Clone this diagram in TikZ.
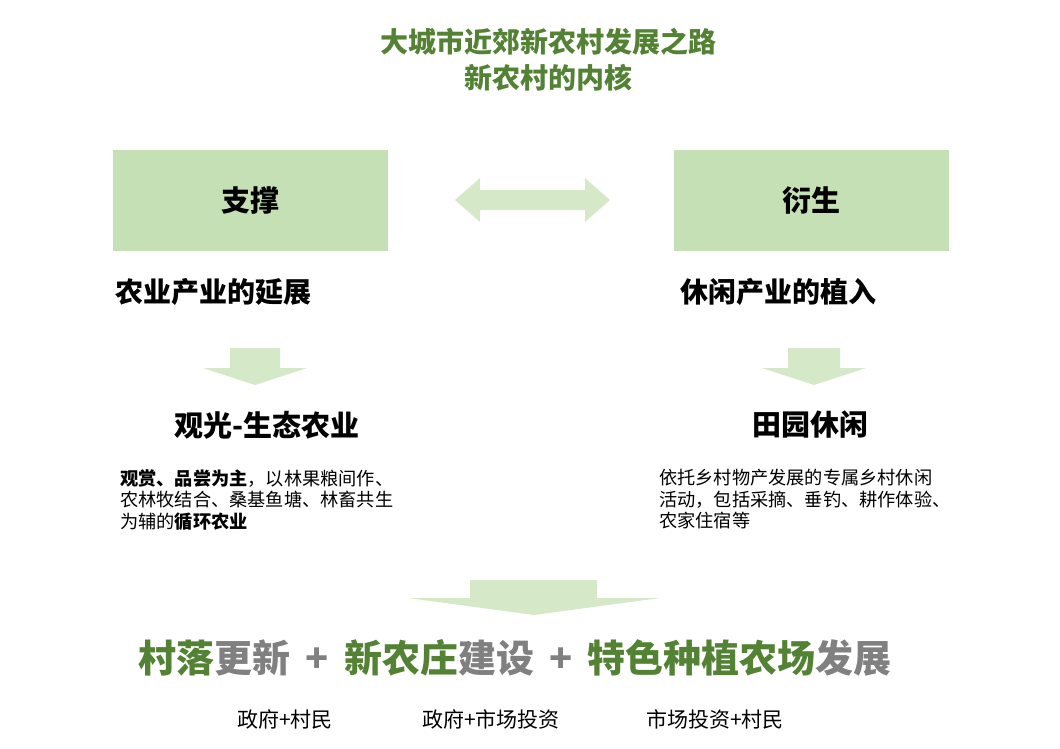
\documentclass[tikz,border=0pt]{standalone}
\usepackage{fontspec}
\setmainfont{Noto Sans CJK SC}
\usetikzlibrary{positioning}
\definecolor{leafgreen}{HTML}{548235}
\definecolor{boxgreen}{HTML}{C5E0B4}
\definecolor{arrowgreen}{HTML}{D5E8C8}
\definecolor{plusgray}{HTML}{808080}
\begin{document}
\begin{tikzpicture}[x=1pt,y=-1pt,
    % Define styles
    title/.style={font=\fontsize{28}{36}\selectfont\bfseries, text=leafgreen, align=center},
    head/.style={draw=none, fill=boxgreen, minimum width=275pt, minimum height=101pt, font=\fontsize{29}{32}\selectfont\bfseries},
    topic/.style={font=\fontsize{28}{32}\selectfont\bfseries, anchor=west},
    sub/.style={font=\fontsize{29}{32}\selectfont\bfseries},
    para/.style={font=\fontsize{18.2}{21.5}\selectfont, align=left, anchor=north west, inner sep=0pt},
    who/.style={font=\fontsize{21}{24}\selectfont},
    big/.style={font=\fontsize{38}{44}\selectfont\bfseries, text=plusgray},
    arrow/.style={fill=arrowgreen, draw=none}
]

% Canvas
\useasboundingbox (0,0) rectangle (1060,749);

% Title
\node[title] (title) at (548,60) {大城市近郊新农村发展之路\\新农村的内核};

% Heading boxes
\node[head] (support) at (250.5,200.5) {支撑};
\node[head] (derive) at (811.5,200.5) {衍生};

% Double arrow between boxes
\fill[arrow] (455,200) -- (480,178) -- (480,190) -- (585,190) -- (585,178) -- (610,200)
    -- (585,222) -- (585,210) -- (480,210) -- (480,222) -- cycle;

% Topics
\node[topic] (agri) at (112,292) {农业产业的延展};
\node[topic] (leisure) at (677,292) {休闲产业的植入};

% Down arrows
\fill[arrow] (230,348) -- (280,348) -- (280,368) -- (307,368) -- (255,385) -- (203,368) -- (230,368) -- cycle;
\fill[arrow] (788,348) -- (840,348) -- (840,368) -- (866,368) -- (814,385) -- (762,368) -- (788,368) -- cycle;

% Sub topics
\node[sub] (eco) at (267,425) {观光-生态农业};
\node[sub] (field) at (810,425) {田园休闲};

% Descriptions
\node[para] (ecotext) at (120,469) {\textbf{观赏、品尝为主}，以林果粮间作、\\农林牧结合、桑基鱼塘、林畜共生\\为辅的\textbf{循环农业}};
\node[para] (fieldtext) at (659,469) {依托乡村物产发展的专属乡村休闲\\活动，包括采摘、垂钓、耕作体验、\\农家住宿等};

% Bottom arrow
\fill[arrow] (470,580) -- (597,580) -- (597,598) -- (660,598) -- (534,615) -- (408,598) -- (470,598) -- cycle;

% Result line
\node[big] (result) at (515,658) {\textcolor{leafgreen}{村落}更新 \,+\, \textcolor{leafgreen}{新农庄}建设 \,+\, \textcolor{leafgreen}{特色种植农场}发展};

% Actors
\node[who] (actorA) at (285,719) {政府+村民};
\node[who] (actorB) at (491,719) {政府+市场投资};
\node[who] (actorC) at (715,719) {市场投资+村民};

\end{tikzpicture}
\end{document}
